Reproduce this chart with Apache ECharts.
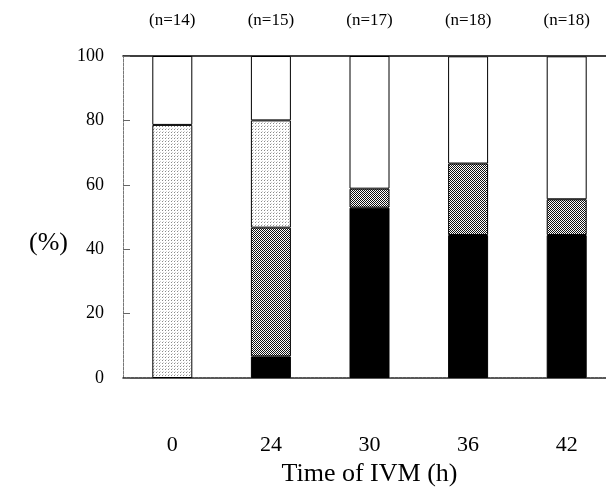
<!DOCTYPE html>
<html>
<head>
<meta charset="utf-8">
<script src="https://cdn.jsdelivr.net/npm/echarts@6/dist/echarts.min.js"></script>
<style>
  html, body { margin: 0; padding: 0; background: #fff; }
  #chart { width: 606px; height: 489px; }
</style>
</head>
<body>
<div id="chart"></div>
<script>
// categories and group sizes
var times = ['0', '24', '30', '36', '42']
var nLabels = ['(n=14)', '(n=15)', '(n=17)', '(n=18)', '(n=18)']
// stacked percentages, bottom to top
var blackPart = [0, 6.7, 52.9, 44.4, 44.4]
var darkPart = [0, 40.0, 5.9, 22.2, 11.1]
var lightPart = [78.6, 33.3, 0, 0, 0]
var whitePart = [21.4, 20.0, 41.2, 33.3, 44.4]
var yTicks = [0, 20, 40, 60, 80, 100]

var serif = '"Liberation Serif", "DejaVu Serif", serif'

// small pattern tiles for the screen-tone fills
function makeTile(size, draw) {
  var c = document.createElement('canvas')
  c.width = size
  c.height = size
  var ctx = c.getContext('2d')
  ctx.fillStyle = '#fff'
  ctx.fillRect(0, 0, size, size)
  draw(ctx)
  return c
}
var lightTile = makeTile(3, function (ctx) {
  ctx.fillStyle = '#8a8a8a'
  ctx.fillRect(0, 0, 1, 1)
  ctx.fillStyle = '#d0d0d0'
  ctx.fillRect(1, 2, 1, 1)
})
var darkTile = makeTile(2, function (ctx) {
  ctx.fillStyle = '#111'
  ctx.fillRect(0, 0, 1, 1)
  ctx.fillRect(1, 1, 1, 1)
})

function seg(name, data, fill) {
  return {
    name: name,
    type: 'bar',
    stack: 'all',
    barWidth: 40,
    data: data.map(function (v) { return v === 0 ? '-' : v }),
    itemStyle: {
      color: fill,
      borderColor: '#000',
      borderWidth: 1
    }
  }
}

var myChart = echarts.init(document.getElementById('chart'))
var option = {
  backgroundColor: '#fff',
  animation: false,
  // plot runs a little past the right edge, as in the scan
  grid: { left: 123, top: 56, height: 322, width: 493, outerBoundsMode: 'none', containLabel: false },
  xAxis: [
    {
      type: 'category',
      data: times,
      position: 'bottom',
      name: 'Time of IVM (h)',
      nameLocation: 'middle',
      nameGap: 78,
      nameTextStyle: { fontFamily: serif, fontSize: 26, color: '#000' },
      axisLine: { lineStyle: { color: '#222', width: 1.5, type: [3, 1] } },
      axisTick: { inside: true, length: 6, lineStyle: { color: '#666' } },
      axisLabel: { margin: 56, fontFamily: serif, fontSize: 22, color: '#000' }
    },
    {
      type: 'category',
      data: nLabels,
      position: 'top',
      axisLine: { lineStyle: { color: '#000', width: 1.5 } },
      axisTick: { show: false },
      axisLabel: { margin: 27, fontFamily: serif, fontSize: 17, color: '#000' }
    }
  ],
  yAxis: {
    type: 'value',
    min: 0,
    max: 100,
    interval: 20,
    axisLine: { show: true, lineStyle: { color: '#777', width: 1, type: [3, 1] } },
    axisTick: { show: true, inside: true, length: 7, lineStyle: { color: '#666' } },
    axisLabel: {
      margin: 19,
      fontFamily: serif,
      fontSize: 18,
      color: '#000',
      formatter: function (v) { return yTicks.indexOf(v) >= 0 ? String(v) : '' }
    },
    splitLine: { show: false }
  },
  graphic: [
    {
      type: 'text',
      left: 29,
      top: 230,
      style: { text: '(%)', fontFamily: serif, fontSize: 26, fill: '#000' }
    }
  ],
  series: [
    seg('black', blackPart, '#000'),
    seg('dark', darkPart, { image: darkTile, repeat: 'repeat' }),
    seg('light', lightPart, { image: lightTile, repeat: 'repeat' }),
    seg('white', whitePart, '#fff')
  ]
}
myChart.setOption(option)
</script>
</body>
</html>
